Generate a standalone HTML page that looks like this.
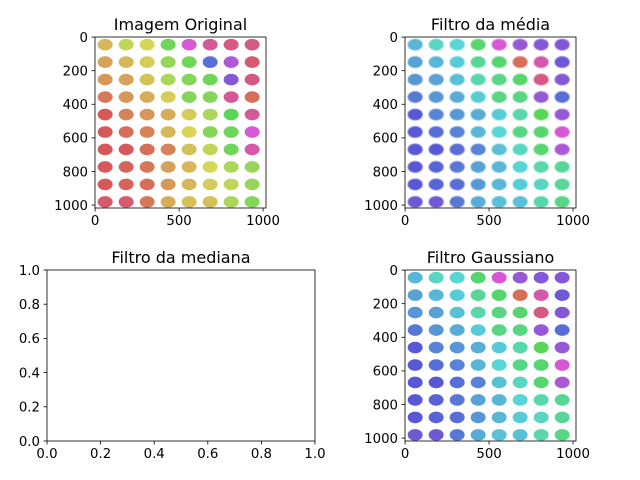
<!DOCTYPE html>
<html><head><meta charset="utf-8">
<style>
html,body{margin:0;padding:0;background:#fff;}
svg{display:block;font-family:"DejaVu Sans","Liberation Sans",sans-serif;}
</style></head>
<body>
<svg id="fig" width="640" height="480" viewBox="0 0 640 480"></svg>
<script>
const imgTicks = [0, 500, 1000];
const yImgTicks = [0, 200, 400, 600, 800, 1000];
const emptyTicks = [0.0, 0.2, 0.4, 0.6, 0.8, 1.0];
const tickLabelsEmpty = ["0.0","0.2","0.4","0.6","0.8","1.0"];
const titles = ["Imagem Original","Filtro da média","Filtro da mediana","Filtro Gaussiano"];
const hueRows = [
 [45,70,60,110,300,330,340,340],
 [35,45,55,90,110,230,280,350],
 [30,35,50,80,100,110,260,340],
 [15,30,40,55,100,100,330,10],
 [0,20,30,40,55,80,120,330],
 [0,10,20,45,60,100,110,300],
 [0,0,10,20,50,70,110,320],
 [0,5,15,35,45,60,80,90],
 [0,5,10,30,45,55,70,90],
 [350,350,15,40,50,50,80,100]
];
const NS="http://www.w3.org/2000/svg";
const svg=document.getElementById('fig');
function mk(tag,attrs,parent){const e=document.createElementNS(NS,tag);for(const k in attrs)e.setAttribute(k,attrs[k]);(parent||svg).appendChild(e);return e;}
function hsl2rgb(h,s,l){s/=100;l/=100;const k=n=>(n+h/30)%12;const a=s*Math.min(l,1-l);const f=n=>l-a*Math.max(-1,Math.min(k(n)-3,Math.min(9-k(n),1)));return [f(0)*255,f(8)*255,f(4)*255].map(Math.round);}
const panels=[
 {x0:95,x1:266,y0:37,y1:208,img:true,swap:false,blur:0},
 {x0:405,x1:576,y0:37,y1:208,img:true,swap:true,blur:0.6},
 {x0:47,x1:315,y0:270,y1:441,img:false},
 {x0:405,x1:576,y0:270,y1:441,img:true,swap:true,blur:0.3}
];
panels.forEach((p,i)=>{
  const g=mk('g',{});
  
  
  const w=p.x1-p.x0,h=p.y1-p.y0;
  if(p.img){
    const sx=v=>p.x0+(v+0.5)*w/1018, sy=v=>p.y0+(v+0.5)*h/1018;
    const ig=mk('g',{},g);
    
    
    if(p.blur){const f=mk('filter',{id:'bl'+i},g);mk('feGaussianBlur',{stdDeviation:p.blur},f);ig.setAttribute('filter','url(#bl'+i+')');}
    hueRows.forEach((row,r)=>row.forEach((hue,c)=>{
      let [R,G,B]=hsl2rgb(hue,60,55);
      if(p.swap){[R,B]=[B,R];}
      const cx=sx(60+c*125), cy=sy(45+r*104);
      const e=mk('ellipse',{cx:cx,cy:cy,rx:7.5,ry:5.8,fill:`rgb(${R},${G},${B})`,opacity:0.9},ig);
      
      
    }));
    imgTicks.forEach(t=>{const x=sx(t);mk('line',{x1:x,x2:x,y1:p.y1,y2:p.y1+3.5,stroke:'#000','stroke-width':0.8},g);
      const tx=mk('text',{x:x,y:p.y1+17,'font-size':'13.3','text-anchor':'middle'},g);tx.textContent=t;
      });
    yImgTicks.forEach(t=>{const y=sy(t);mk('line',{x1:p.x0,x2:p.x0-3.5,y1:y,y2:y,stroke:'#000','stroke-width':0.8},g);
      const tx=mk('text',{x:p.x0-7,y:y+4.8,'font-size':'13.3','text-anchor':'end'},g);tx.textContent=t;
      });
  } else {
    const sx=v=>p.x0+v*w, sy=v=>p.y1-v*h;
    emptyTicks.forEach((t,k)=>{const x=sx(t);mk('line',{x1:x,x2:x,y1:p.y1,y2:p.y1+3.5,stroke:'#000','stroke-width':0.8},g);
      const tx=mk('text',{x:x,y:p.y1+17,'font-size':'13.3','text-anchor':'middle'},g);tx.textContent=tickLabelsEmpty[k];
      
      const y=sy(t);mk('line',{x1:p.x0,x2:p.x0-3.5,y1:y,y2:y,stroke:'#000','stroke-width':0.8},g);
      const ty=mk('text',{x:p.x0-7,y:y+4.8,'font-size':'13.3','text-anchor':'end'},g);ty.textContent=tickLabelsEmpty[k];
      });
  }
  const fr=mk('rect',{x:p.x0,y:p.y0,width:w,height:h,fill:'none',stroke:'#000','stroke-width':0.8},g);
  
  const t=mk('text',{x:(p.x0+p.x1)/2,y:p.y0-7,'font-size':'16','text-anchor':'middle'},g);
  t.textContent=titles[i];
  
  
});
</script>
</body></html>
